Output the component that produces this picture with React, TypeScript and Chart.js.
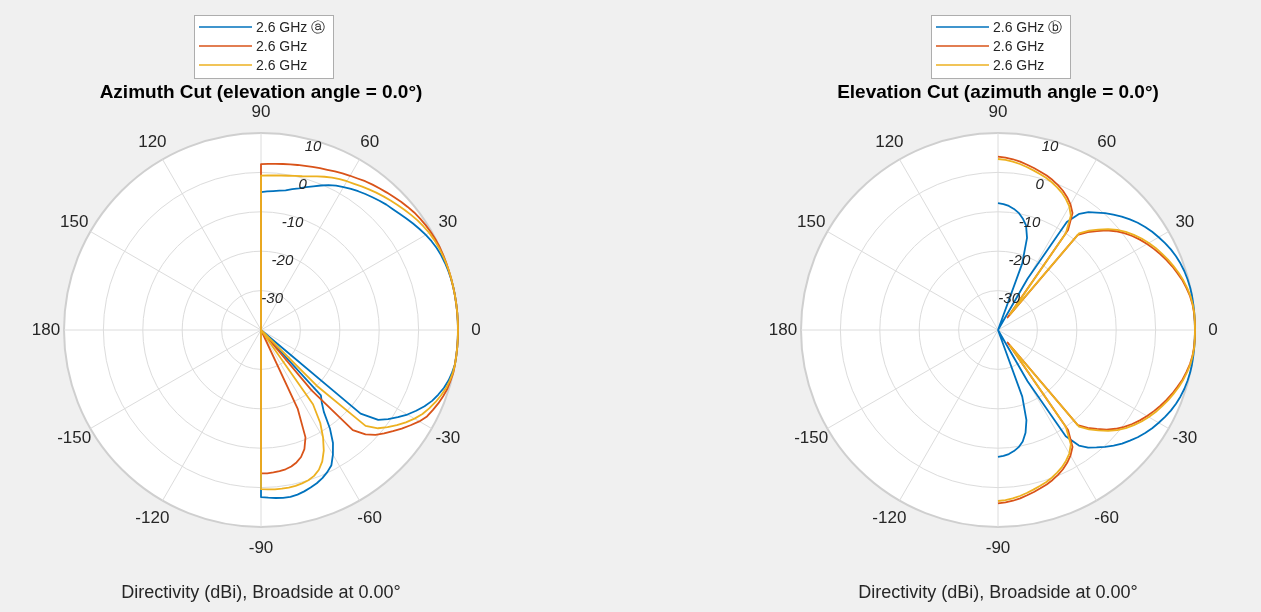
import React, { useEffect, useRef } from 'react';
import { Chart, registerables } from 'chart.js';

Chart.register(...registerables);

// ---------- axis / category definitions ----------
const STEP = 2.5; // angular resolution of the pattern samples (degrees)
const N = 360 / STEP; // number of radial categories
const R_MIN = -40;
const R_MAX = 10;
const R_STEP = 10;
const ANGLE_TICKS = [0, 30, 60, 90, 120, 150, 180, -150, -120, -90, -60, -30];
const RING_TICKS = [10, 0, -10, -20, -30];
// sample angles of every series: 92.5, 90, 87.5, ... , -92.5
const SAMPLE_ANGLES = Array.from({ length: 75 }, (_, k) => 92.5 - k * STEP);

const COLORS = ['#0072BD', '#D95319', '#EDB120'];
const AZ_NAMES = ['2.6 GHz \u24D0', '2.6 GHz', '2.6 GHz'];
const EL_NAMES = ['2.6 GHz \u24D1', '2.6 GHz', '2.6 GHz'];
const AZ_TITLE = 'Azimuth Cut (elevation angle = 0.0\u00B0)';
const EL_TITLE = 'Elevation Cut (azimuth angle = 0.0\u00B0)';
const SUBTITLE = 'Directivity (dBi), Broadside at 0.00\u00B0';

// ---------- Azimuth cut (dBi), angles 92.5 .. -92.5 ----------
const AZ_BLUE = [
  -40,
  -5.0, -4.8, -4.6, -4.3, -4.0, -3.4, -2.8, -2.0, -1.2, -0.3, 0.6, 1.3,
  1.9, 2.5, 3.0, 3.5, 4.0, 4.5, 5.0, 5.4, 5.9, 6.5, 7.1, 7.7,
  8.3, 8.8, 9.2, 9.5, 9.7, 9.85, 9.95, 10, 10, 10, 10, 10,
  10,
  10, 10, 10, 10, 9.7, 9.3, 8.7, 7.9, 7.0, 5.8, 4.4, 2.9,
  1.2, -0.6, -2.5, -7.0, -40, -40, -17.5, -16, -13.8, -9.5, -6.0, -3.5,
  -1.3, -0.2, 0.7, 1.4, 1.9, 2.4, 2.8, 3.0, 3.0, 2.8, 2.6, 2.4,
  -40,
];
const AZ_RED = [
  -40,
  2.1, 2.2, 2.3, 2.5, 2.7, 2.9, 3.1, 3.4, 3.7, 4.0, 4.4, 4.8,
  5.2, 5.6, 6.1, 6.5, 6.9, 7.3, 7.7, 8.2, 8.6, 9.0, 9.3, 9.55,
  9.75, 9.9, 10, 10, 10, 10, 10, 10, 10, 10, 10, 10,
  10,
  10, 10, 10, 10, 10, 9.8, 9.6, 9.2, 8.7, 8.1, 7.5, 6.4,
  5.0, 3.6, 2.2, 0.8, -0.6, -2.5, -5.5, -20, -40, -40, -40, -40,
  -40, -18, -10.5, -7.8, -6.2, -5.2, -4.5, -4.1, -3.9, -3.7, -3.6, -3.6,
  -40,
];
const AZ_YELLOW = [
  -40,
  -0.8, -0.75, -0.6, -0.45, -0.25, 0.05, 0.4, 0.9, 1.5, 2.1, 2.7, 3.2,
  3.6, 4.0, 4.5, 5.0, 5.5, 6.0, 6.5, 7.0, 7.5, 8.0, 8.5, 8.9,
  9.3, 9.55, 9.75, 9.85, 9.95, 10, 10, 10, 10, 10, 10, 10,
  10,
  10, 10, 10, 10, 9.9, 9.6, 9.2, 8.6, 7.9, 7.1, 6.2, 5.0,
  3.6, 2.1, 0.5, -1.2, -4.0, -20, -40, -40, -40, -17, -12, -8.5,
  -5.5, -3.2, -1.6, -0.6, 0.0, 0.3, 0.5, 0.6, 0.6, 0.6, 0.5, 0.4,
  -40,
];

// ---------- Elevation cut (dBi), angles 92.5 .. -92.5 ----------
const EL_BLUE = [
  null,
  -7.8, -8.0, -8.4, -9.0, -9.8, -11, -12.5, -15.5, -22, -40, -40, -40,
  -25, -7.5, -4.0, -2.3, -1.1, 0.2, 1.4, 2.6, 3.7, 4.7, 5.6, 6.4,
  7.1, 7.8, 8.4, 8.9, 9.3, 9.6, 9.8, 9.95, 10, 10, 10, 10,
  10,
  10, 10, 10, 10, 9.95, 9.8, 9.6, 9.3, 8.9, 8.4, 7.8, 7.1,
  6.4, 5.6, 4.7, 3.7, 2.7, 1.5, 0.2, -1.1, -2.4, -4.2, -8.0, -25,
  -40, -40, -40, -22, -16, -13, -11, -9.8, -9.0, -8.4, -8.0, -7.8,
  null,
];
const EL_RED = [
  null,
  4.0, 3.8, 3.5, 3.1, 2.6, 2.1, 1.6, 1.1, 0.5, -0.2, -1.0, -2.0,
  -3.2, -4.8, -9.0, -36, -8.5, -6.3, -4.5, -2.6, -1.0, 0.4, 1.6, 2.7,
  3.7, 4.6, 5.5, 6.3, 7.1, 7.8, 8.5, 9.0, 9.5, 9.8, 9.95, 10,
  10,
  10, 9.95, 9.8, 9.5, 9.0, 8.5, 7.8, 7.1, 6.3, 5.5, 4.6, 3.7,
  2.7, 1.6, 0.4, -1.0, -2.6, -4.5, -6.3, -8.5, -36, -9.0, -4.8, -3.2,
  -2.0, -1.0, -0.2, 0.5, 1.1, 1.6, 2.1, 2.6, 3.1, 3.5, 3.8, 4.0,
  null,
];
const EL_YELLOW = [
  null,
  3.4, 3.2, 2.9, 2.5, 2.0, 1.5, 1.0, 0.5, -0.1, -0.8, -1.6, -2.6,
  -3.8, -5.6, -10, -35, -8.0, -5.8, -4.0, -2.1, -0.5, 0.9, 2.1, 3.2,
  4.2, 5.1, 5.9, 6.7, 7.4, 8.1, 8.7, 9.2, 9.6, 9.85, 10, 10,
  10,
  10, 10, 9.85, 9.6, 9.2, 8.7, 8.1, 7.4, 6.7, 5.9, 5.1, 4.2,
  3.2, 2.1, 0.9, -0.5, -2.1, -4.0, -5.8, -8.0, -35, -10, -5.6, -3.8,
  -2.6, -1.6, -0.8, -0.1, 0.5, 1.0, 1.5, 2.0, 2.5, 2.9, 3.2, 3.4,
  null,
];

// ---------- helpers ----------
// radar category i sits at polar angle -i*STEP (clockwise from 0 deg at the right)
const LABELS = Array.from({ length: N }, (_, i) => String(-i * STEP));
const angleToIndex = (deg: number) => ((Math.round(-deg / STEP) % N) + N) % N;

function toIndexData(values: (number | null)[]) {
  const arr: (number | null)[] = new Array(N).fill(null);
  SAMPLE_ANGLES.forEach((a, k) => {
    const v = values[k];
    if (v === null || v === undefined) return;
    arr[angleToIndex(a)] = Math.max(v, R_MIN);
  });
  return arr;
}

const FONT = '"Liberation Sans", Arial, Helvetica, sans-serif';
const GRID = '#dcdcdc';
const R_PX = 197;
const CY = 330;
const H = 612;

function makeDecor(title: string, names: string[]) {
  return {
    id: 'polarDecor',
    afterDraw(chart: any) {
      const s = chart.scales.r;
      const ctx = chart.ctx as CanvasRenderingContext2D;
      const R = s.drawingArea;
      const cx = s.xCenter;
      ctx.save();
      ctx.textAlign = 'center';
      ctx.textBaseline = 'middle';
      // angle labels
      ctx.fillStyle = '#262626';
      ctx.font = `17px ${FONT}`;
      ANGLE_TICKS.forEach((a) => {
        const horiz = Math.abs(Math.cos((a * Math.PI) / 180));
        const p = s.getPointPosition(angleToIndex(a), R + 21 - 3 * horiz * horiz);
        ctx.fillText(String(a), p.x, p.y);
      });
      // ring labels
      ctx.font = `italic 15px ${FONT}`;
      const ri = angleToIndex(75);
      RING_TICKS.forEach((v) => {
        const p = s.getPointPosition(ri, s.getDistanceFromCenterForValue(v));
        ctx.fillText(String(v), p.x + 1, p.y + 7);
      });
      // title
      ctx.fillStyle = '#000';
      ctx.font = `bold 19px ${FONT}`;
      ctx.fillText(title, cx, 93);
      // bottom caption
      ctx.fillStyle = '#262626';
      ctx.font = `18px ${FONT}`;
      ctx.fillText(SUBTITLE, cx, 593);
      // legend
      const bx = cx - 67;
      const by = 15;
      ctx.fillStyle = '#ffffff';
      ctx.fillRect(bx, by, 139, 63);
      ctx.strokeStyle = '#adadad';
      ctx.lineWidth = 1;
      ctx.strokeRect(bx + 0.5, by + 0.5, 139, 63);
      ctx.textAlign = 'left';
      ctx.font = `14px ${FONT}`;
      names.forEach((n, i) => {
        const y = 27 + i * 19;
        ctx.strokeStyle = COLORS[i];
        ctx.lineWidth = 1.6;
        ctx.beginPath();
        ctx.moveTo(bx + 5, y);
        ctx.lineTo(bx + 58, y);
        ctx.stroke();
        ctx.fillStyle = '#262626';
        ctx.fillText(n, bx + 62, y + 1);
      });
      ctx.restore();
    },
  };
}

type PanelProps = {
  left: number;
  width: number;
  cx: number;
  title: string;
  names: string[];
  series: (number | null)[][];
};

function PolarPanel({ left, width, cx, title, names, series }: PanelProps) {
  const ref = useRef<HTMLCanvasElement>(null);
  useEffect(() => {
    if (!ref.current) return;
    const chart = new Chart(ref.current, {
      type: 'radar',
      data: {
        labels: LABELS,
        datasets: series.map((v, i) => ({
          label: names[i],
          data: toIndexData(v),
          borderColor: COLORS[i],
          backgroundColor: COLORS[i],
          borderWidth: 1.8,
          pointRadius: 0,
          pointHitRadius: 0,
          fill: false,
          tension: 0,
          spanGaps: false,
          order: 3 - i,
        })),
      },
      options: {
        responsive: false,
        animation: false,
        events: [],
        layout: {
          padding: {
            left: cx - R_PX,
            right: width - cx - R_PX,
            top: CY - R_PX,
            bottom: H - CY - R_PX,
          },
        },
        plugins: {
          legend: { display: false },
          tooltip: { enabled: false },
          title: { display: false },
        },
        elements: { line: { borderJoinStyle: 'round' } },
        scales: {
          r: {
            min: R_MIN,
            max: R_MAX,
            startAngle: 90,
            backgroundColor: '#ffffff',
            ticks: { display: false, stepSize: R_STEP },
            pointLabels: { display: false },
            grid: {
              circular: true,
              color: (c: any) => (c.index === 5 ? '#cfcfcf' : GRID),
              lineWidth: (c: any) => (c.index === 5 ? 2 : 1),
            },
            angleLines: {
              color: (c: any) => (c.index % (30 / STEP) === 0 ? GRID : 'rgba(0,0,0,0)'),
              lineWidth: 1,
            },
          },
        },
      } as any,
      plugins: [makeDecor(title, names)],
    });
    return () => chart.destroy();
  }, []);
  return (
    <canvas
      ref={ref}
      width={width}
      height={H}
      style={{ position: 'absolute', left, top: 0, width, height: H }}
    />
  );
}

export default function App() {
  useEffect(() => {
    document.body.style.margin = '0';
    document.body.style.background = '#f0f0f0';
  }, []);
  return (
    <div style={{ position: 'relative', width: 1261, height: H, background: '#f0f0f0', overflow: 'hidden' }}>
      <PolarPanel left={0} width={630} cx={261} title={AZ_TITLE} names={AZ_NAMES} series={[AZ_BLUE, AZ_RED, AZ_YELLOW]} />
      <PolarPanel left={630} width={631} cx={368} title={EL_TITLE} names={EL_NAMES} series={[EL_BLUE, EL_RED, EL_YELLOW]} />
    </div>
  );
}
